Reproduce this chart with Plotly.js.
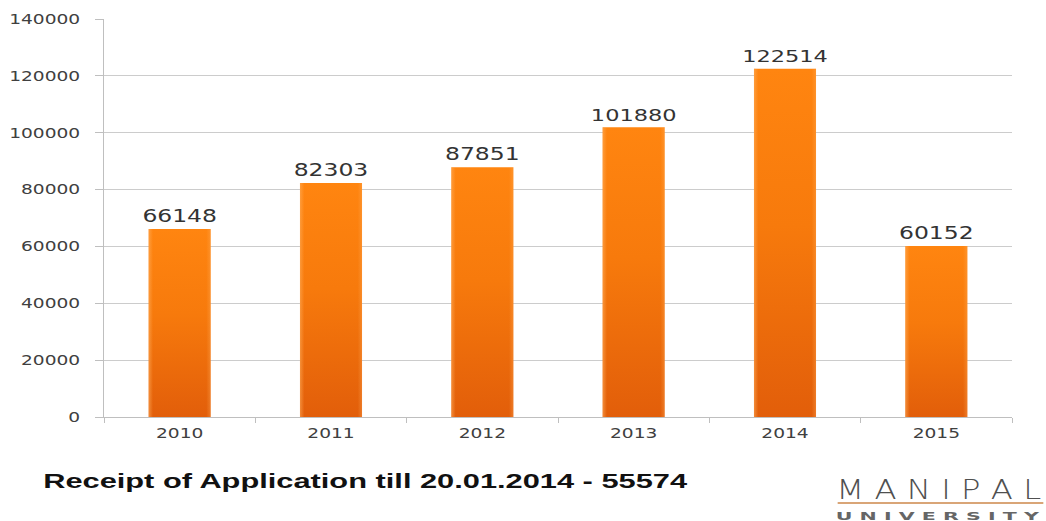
<!DOCTYPE html>
<html>
<head>
<meta charset="utf-8">
<script src="https://cdn.plot.ly/plotly-3.0.1.min.js"></script>
<style>
html,body{margin:0;padding:0;background:#fff;}
#chart{width:1046px;height:521px;}
</style>
</head>
<body>
<div id="chart"></div>
<script>
const years = ['2010', '2011', '2012', '2013', '2014', '2015'];
const applications = [66148, 82303, 87851, 101880, 122514, 60152];
const yTicks = [0, 20000, 40000, 60000, 80000, 100000, 120000, 140000];
const footnote = 'Receipt of Application till 20.01.2014 - 55574';
const logoName = 'M A N I P A L';
const logoSub = 'U N I V E R S I T Y';

const trace = {
  type: 'bar',
  x: years,
  y: applications,
  width: 0.41,
  marker: {color: '#F57410', line: {width: 0}},
  text: applications.map(String),
  textposition: 'outside',
  cliponaxis: false,
  textfont: {family: 'DejaVu Sans', size: 17, color: '#333333'},
  hoverinfo: 'x+y'
};

const layout = {
  width: 1046, height: 521,
  margin: {l: 104, r: 34, t: 19, b: 104},
  paper_bgcolor: '#ffffff', plot_bgcolor: '#ffffff',
  showlegend: false,
  xaxis: {
    type: 'category',
    showline: true, linecolor: '#bfbfbf', linewidth: 1,
    ticks: 'outside', tickson: 'boundaries', ticklen: 5, tickcolor: '#bfbfbf',
    showgrid: false,
    tickfont: {family: 'DejaVu Sans', size: 14, color: '#404040'},
    ticklabelstandoff: 3
  },
  yaxis: {
    range: [0, 140000],
    tickvals: yTicks,
    ticktext: yTicks.map(String),
    showline: true, linecolor: '#bfbfbf', linewidth: 1,
    ticks: 'outside', ticklen: 8, tickcolor: '#bfbfbf',
    showgrid: true, gridcolor: '#cccccc', gridwidth: 1,
    zeroline: false,
    tickfont: {family: 'DejaVu Sans', size: 14, color: '#404040'},
    ticklabelstandoff: 12
  },
  annotations: [
    {xref: 'paper', yref: 'paper', x: -0.069, y: -0.162, xanchor: 'left', yanchor: 'middle',
     text: '<b>' + footnote + '</b>', showarrow: false,
     font: {family: 'Liberation Sans', size: 20, color: '#111111'}},
    {xref: 'paper', yref: 'paper', x: 1.0345, y: -0.182, xanchor: 'right', yanchor: 'middle',
     text: logoName, showarrow: false,
     font: {family: 'DejaVu Sans', size: 27, color: '#505050', weight: 200}},
    {xref: 'paper', yref: 'paper', x: 1.0345, y: -0.25, xanchor: 'right', yanchor: 'middle',
     text: '<b>' + logoSub + '</b>', showarrow: false,
     font: {family: 'DejaVu Sans', size: 10, color: '#666666'}}
  ],
  shapes: [
    {type: 'line', xref: 'paper', yref: 'paper', x0: 0.808, x1: 1.0345, y0: -0.216, y1: -0.216,
     line: {color: '#D9A577', width: 2}}
  ]
};

function stretch(el, s, mode) {
  const b = el.getBBox();
  const cx = mode === 'start' ? b.x : (mode === 'end' ? b.x + b.width : b.x + b.width / 2);
  const prev = el.getAttribute('transform') || '';
  el.setAttribute('transform', prev + ' translate(' + cx + ',0) scale(' + s + ',1) translate(' + (-cx) + ',0)');
}

function makeGrad(defs, ns, id, horizontal, stops) {
  const g = document.createElementNS(ns, 'linearGradient');
  g.setAttribute('id', id);
  g.setAttribute('x1', '0'); g.setAttribute('y1', '0');
  g.setAttribute('x2', horizontal ? '1' : '0'); g.setAttribute('y2', horizontal ? '0' : '1');
  stops.forEach(function(s){
    const st = document.createElementNS(ns, 'stop');
    st.setAttribute('offset', s[0]); st.setAttribute('stop-color', s[1]);
    st.setAttribute('stop-opacity', s[2] === undefined ? 1 : s[2]);
    g.appendChild(st);
  });
  defs.appendChild(g);
}

Plotly.newPlot('chart', [trace], layout, {displayModeBar: false, staticPlot: true}).then(function(gd){
  const svg = gd.querySelector('svg.main-svg');
  const ns = 'http://www.w3.org/2000/svg';
  let defs = svg.querySelector('defs');
  if (!defs) { defs = document.createElementNS(ns, 'defs'); svg.insertBefore(defs, svg.firstChild); }
  makeGrad(defs, ns, 'barGrad', false, [['0', '#FF8510'], ['0.45', '#F77A0C'], ['1', '#E25E0A']]);
  makeGrad(defs, ns, 'edgeGrad', true, [['0', '#FFB060', 0.55], ['0.07', '#FFB060', 0], ['0.93', '#FFB060', 0], ['1', '#FFB060', 0.35]]);
  gd.querySelectorAll('.bars .point path').forEach(function(p){
    p.style.fill = 'url(#barGrad)';
    const c = p.cloneNode(true);
    c.style.fill = 'url(#edgeGrad)';
    c.style.stroke = 'none';
    p.parentNode.insertBefore(c, p.nextSibling);
  });

  // horizontally widen text to match the reference's stretched look
  gd.querySelectorAll('.ytick text').forEach(function(t){ stretch(t, 1.33, 'end'); });
  gd.querySelectorAll('.xtick text').forEach(function(t){ stretch(t, 1.33, 'middle'); });
  gd.querySelectorAll('.bars .point text').forEach(function(t){ stretch(t, 1.38, 'middle'); });
  const ann = gd.querySelectorAll('.annotation-text-g text');
  if (ann[0]) stretch(ann[0], 1.54, 'start');
  [ann[1], ann[2]].forEach(function(t){
    if (!t) return;
    const w = t.getBBox().width;
    stretch(t, 205 / w, 'end');
  });
});
</script>
</body>
</html>
